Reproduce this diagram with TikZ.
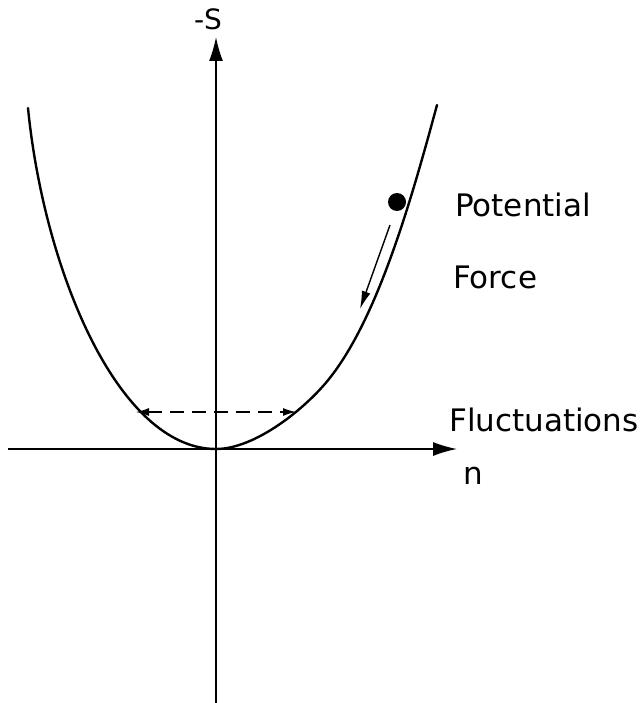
\documentclass[tikz,border=0pt]{standalone}
\usepackage{fontspec}
\setmainfont{DejaVu Sans}
\usepackage{tikz}
\usetikzlibrary{arrows.meta, positioning, calc}
\tikzset{
  ax/.style   = {line width=1.5pt, -{Latex[length=24pt,width=14pt]}},
  pot/.style  = {line width=2.4pt, line join=round, line cap=round},
  lbl/.style  = {inner sep=0pt, anchor=base west, font=\fontsize{31}{36}\selectfont},
  axlbl/.style= {inner sep=0pt, anchor=base, font=\fontsize{31}{36}\selectfont},
  fl/.style   = {line width=1.4pt, -{Latex[length=18pt,width=9pt]}},
  fluc/.style = {line width=1.2pt, dash pattern=on 14pt off 8pt,
                 {Latex[length=13pt,width=8pt]}-{Latex[length=13pt,width=8pt]}},
  ball/.style = {circle, fill, minimum size=18pt, inner sep=0pt},
}

\begin{document}
\begin{tikzpicture}[x=1pt, y=-1pt]
  \useasboundingbox (0,0) rectangle (642,703);
  % axes
  \coordinate (O)    at (216,449);
  \coordinate (ybot) at (216,703);
  \coordinate (ytop) at (216,37);
  \coordinate (xl)   at (8,449);
  \coordinate (xr)   at (457,449);
  \draw[ax] (ybot) -- (ytop);
  \draw[ax] (xl) -- (xr);
  \node[axlbl, font=\fontsize{28}{32}\selectfont] (S) at (208,30) {-S};
  \node[axlbl] (n) at (473,484) {n};
  % potential well
  \coordinate (wl) at (28,108);
  \coordinate (wm) at (329,379);
  \coordinate (wr) at (437,105);
  \draw[pot] (wl) .. controls (44,270) and (118,449) .. (O)
             .. controls (255,449) and (305,409) .. (wm)
             .. controls (377,319) and (410,205) .. (wr);
  % particle and force
  \node[ball] (p) at (397,202) {};
  \coordinate (fa) at (390,225);
  \coordinate (fb) at (360,309);
  \draw[fl] (fa) -- (fb);
  % fluctuations
  \coordinate (fl1) at (136,412);
  \coordinate (fl2) at (296,412);
  \draw[fluc] (fl1) -- (fl2);
  % labels
  \node[lbl] (pot) at (455,216) {Potential};
  \node[lbl] (frc) at (453,288) {Force};
  \node[lbl] (flu) at (449,431) {Fluctuations};
\end{tikzpicture}
\end{document}
